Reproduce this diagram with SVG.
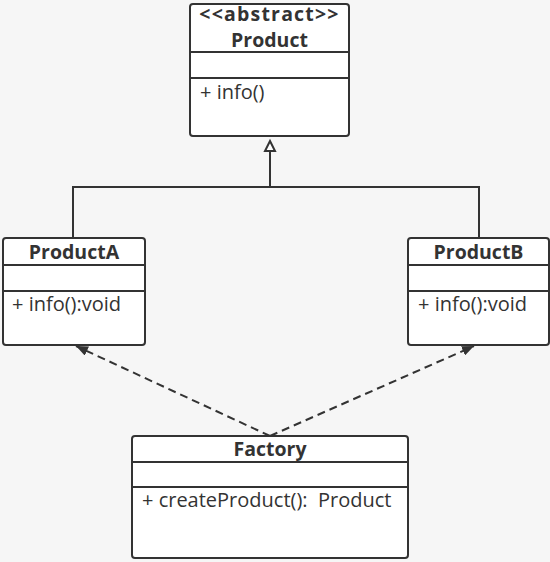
<svg xmlns="http://www.w3.org/2000/svg" width="550" height="562" viewBox="0 0 550 562">
<style>
.box{fill:#ffffff;stroke:#333333;stroke-width:2}
.div{stroke:#333333;stroke-width:2}
.t{font-family:"Open Sans","Noto Sans CJK SC",sans-serif;font-size:19.5px;font-weight:bold;fill:#333333;text-anchor:middle}
.m{font-family:"Open Sans","Noto Sans CJK SC",sans-serif;font-size:20px;fill:#333333}
.ln{fill:none;stroke:#333333;stroke-width:2}
.dash{fill:none;stroke:#333333;stroke-width:2;stroke-dasharray:8,5}
</style>
<defs>
<marker id="filled" viewBox="0 0 12 10" refX="12" refY="5" markerWidth="12" markerHeight="10" markerUnits="userSpaceOnUse" orient="auto">
<path d="M0,0 L12,5 L0,10 z" fill="#333333"/>
</marker>
</defs>
<rect x="0" y="0" width="550" height="562" fill="#f6f6f6"/>
<g id="connectors">
<polyline class="ln" points="73,238 73,187 479,187 479,238"/>
<line class="ln" x1="270" y1="187" x2="270" y2="150"/>
<path d="M270,141 L275,151 L265,151 Z" fill="#ffffff" stroke="#333333" stroke-width="2" stroke-linejoin="miter"/>
<line class="dash" x1="270" y1="436" x2="76" y2="346" marker-end="url(#filled)"/>
<line class="dash" x1="270" y1="436" x2="474" y2="346" marker-end="url(#filled)"/>
</g>
<g id="Product">
<rect class="box" x="190" y="4" width="159" height="132" rx="3"/>
<line class="div" x1="190" y1="52" x2="349" y2="52"/>
<line class="div" x1="190" y1="78" x2="349" y2="78"/>
<text class="t" x="269.5" y="21" font-size="17.5" letter-spacing="1.2">&lt;&lt;abstract&gt;&gt;</text>
<text class="t" x="269.5" y="47" font-size="18.5">Product</text>
<text class="m" x="200" y="99">+&#160;info()</text>
</g>
<g id="ProductA">
<rect class="box" x="3" y="238" width="142" height="107" rx="3"/>
<line class="div" x1="3" y1="265" x2="145" y2="265"/>
<line class="div" x1="3" y1="291" x2="145" y2="291"/>
<text class="t" x="74" y="259">ProductA</text>
<text class="m" x="12" y="311">+ info():void</text>
</g>
<g id="ProductB">
<rect class="box" x="408" y="238" width="141" height="107" rx="3"/>
<line class="div" x1="408" y1="265" x2="549" y2="265"/>
<line class="div" x1="408" y1="291" x2="549" y2="291"/>
<text class="t" x="478.5" y="259">ProductB</text>
<text class="m" x="418" y="311">+ info():void</text>
</g>
<g id="Factory">
<rect class="box" x="132" y="436" width="276" height="122" rx="3"/>
<line class="div" x1="132" y1="462" x2="408" y2="462"/>
<line class="div" x1="132" y1="487" x2="408" y2="487"/>
<text class="t" x="270" y="456">Factory</text>
<text class="m" x="142" y="507">+ createProduct():&#160; Product</text>
</g>
</svg>
